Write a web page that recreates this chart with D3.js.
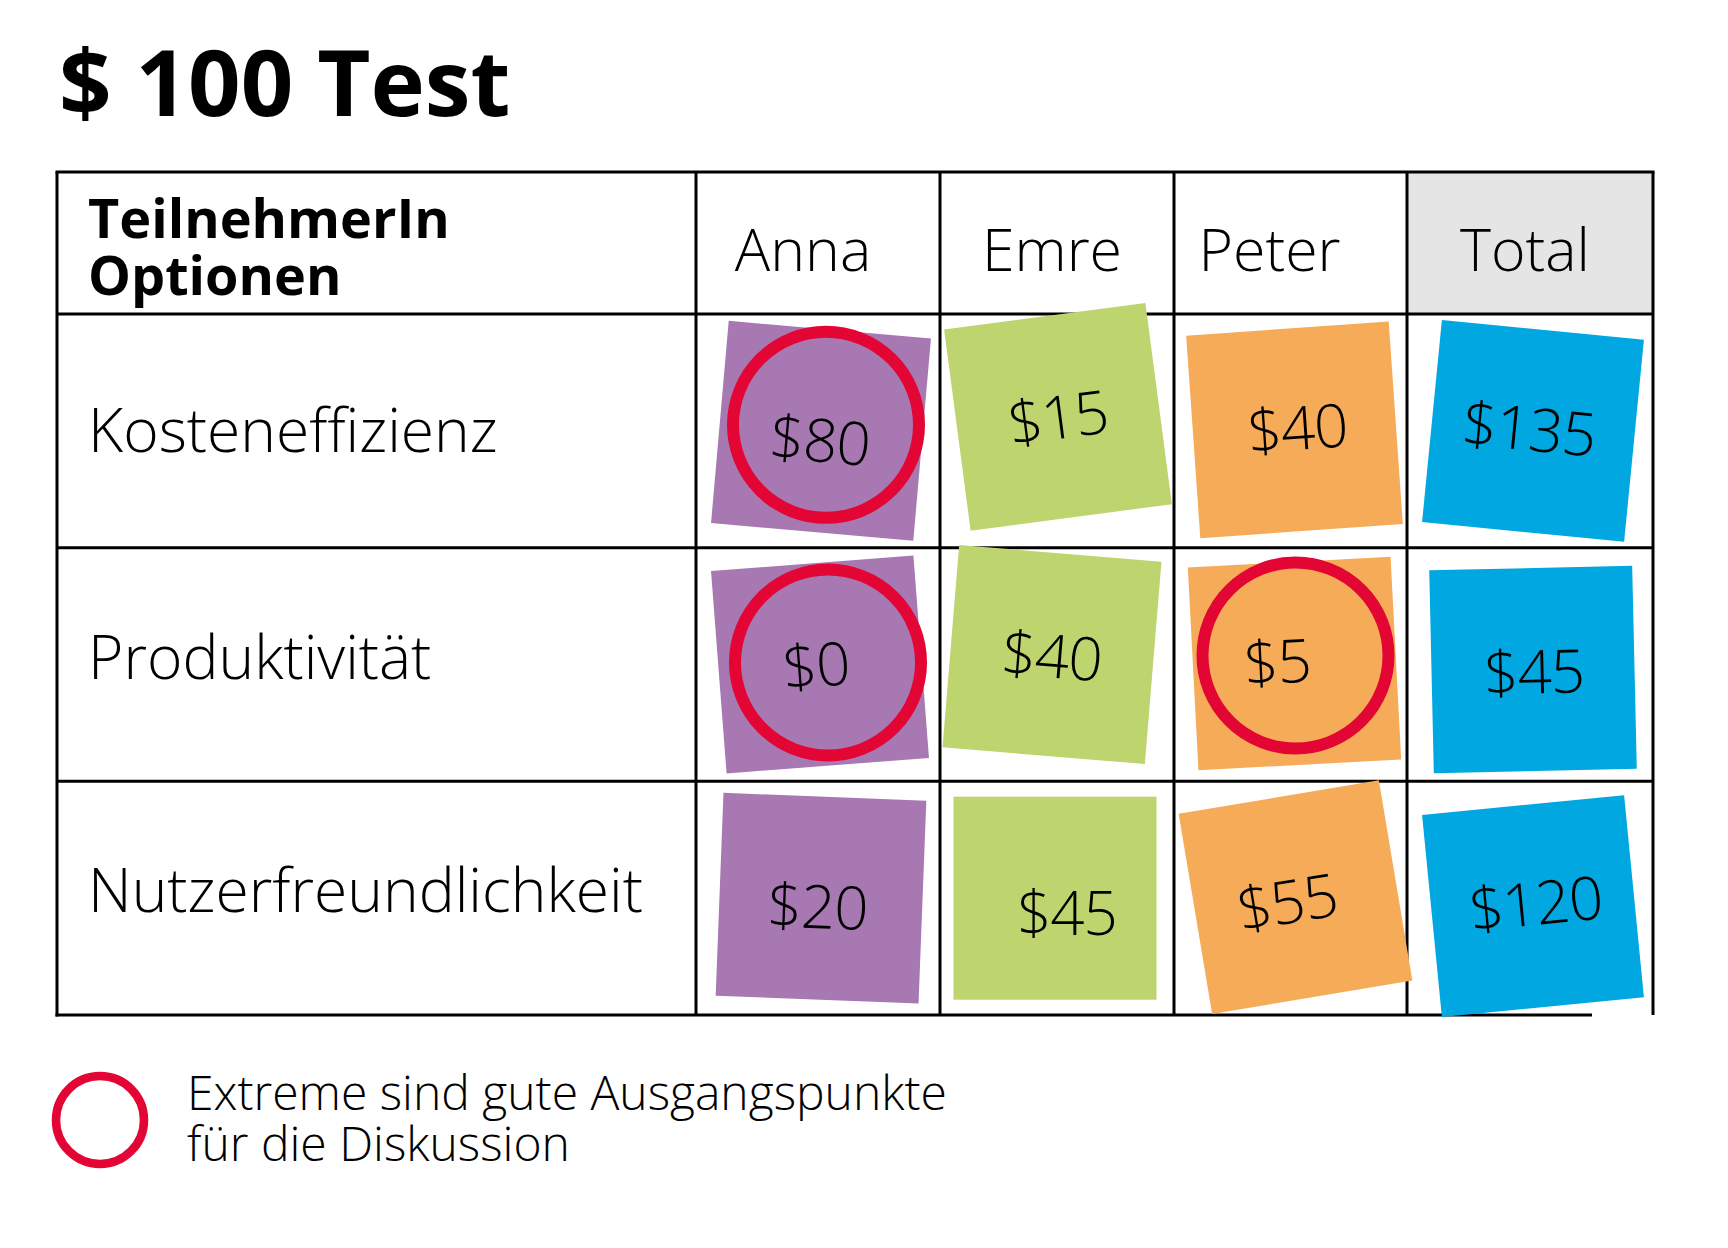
<!DOCTYPE html>
<html>
<head>
<meta charset="utf-8">
<script src="https://cdn.jsdelivr.net/npm/d3@7"></script>
<style>
  body { margin: 0; background: #fff; }
  svg { display: block; }
  text { font-family: "Open Sans", Lato, sans-serif; fill: #000; }
  .light { font-weight: 300; }
</style>
</head>
<body>
<div id="chart"></div>
<script>
// Daten
const participants = ["Anna", "Emre", "Peter", "Total"];
const options = ["Kosteneffizienz", "Produktivität", "Nutzerfreundlichkeit"];
const anna = [80, 0, 20];
const emre = [15, 40, 45];
const peter = [40, 5, 55];
const total = [135, 45, 120];
// Extreme (Zeile, Teilnehmer), die rot markiert werden
const extremes = [["Kosteneffizienz", "Anna"], ["Produktivität", "Anna"], ["Produktivität", "Peter"]];

const seriesByName = { Anna: anna, Emre: emre, Peter: peter, Total: total };
const colors = { Anna: "#a778b2", Emre: "#bdd46f", Peter: "#f6ab59", Total: "#00a7e1" };
const red = "#e30534";

// Spaltenbreiten (Layout) und kleine Verschiebung + Drehung jedes Zettels
// [dx, dy, Winkel, Text-dx, Text-dy] (nur Stil)
const colWidths = [244, 234, 233, 246];
const tilt = [
  [[3, 0, 5, 0, 9], [1, -14, -7.5, 0, 0], [4, -1, -4, 3, -2], [3, 0, 5.6, -4, -2]],
  [[2, 0, -4.4, -4, 0], [-5, -10, 4.7, 0, 1], [4, -1, -3, -17, -3], [3, 5, -1.3, 1, 2]],
  [[3, 0, 2.2, -3, 8], [-2, 0, 0, 12, 15], [5, -1, -9.5, -9, 3], [3, 8, -5.6, 3, -3]]
];
const headerShift = { Anna: -15, Emre: -5, Peter: -21, Total: -5 };
const extremeShift = [[8, -6], [10, -2], [5, -9]];

const width = 1728, height = 1248;
const tLeft = 57, labelRight = 696, tRight = 1653;
const tTop = 172, headerBottom = 314, tBottom = 1015;

const svg = d3.select("#chart").append("svg")
  .attr("width", width)
  .attr("height", height);

// Spalten: linke Kante und Breite je Teilnehmer
const edges = [0].concat(Array.from(d3.cumsum(colWidths)));
const scaleW = (tRight - labelRight) / edges[edges.length - 1];
const x = d3.scaleOrdinal().domain(participants).range(edges.slice(0, -1).map(e => labelRight + e * scaleW));
const xw = d3.scaleOrdinal().domain(participants).range(colWidths.map(w => w * scaleW));
const y = d3.scaleBand().domain(options).range([headerBottom, tBottom]);

// Titel
svg.append("text")
  .attr("x", 59)
  .attr("y", 116)
  .style("font-size", "92px")
  .style("font-weight", 700)
  .text("$ 100 Test");

// graue Kopfzelle fuer Total
svg.append("rect")
  .attr("x", x("Total"))
  .attr("y", tTop)
  .attr("width", tRight - x("Total"))
  .attr("height", headerBottom - tTop)
  .attr("fill", "#e5e5e5");

// Tabellenlinien
const lines = svg.append("g").attr("stroke", "#000").attr("stroke-width", 3);
lines.append("line").attr("x1", tLeft - 1.5).attr("x2", tRight + 1.5).attr("y1", tTop).attr("y2", tTop);
options.forEach(o => {
  lines.append("line").attr("x1", tLeft).attr("x2", tRight).attr("y1", y(o)).attr("y2", y(o));
});
lines.append("line").attr("x1", tLeft - 1.5).attr("x2", 1592).attr("y1", tBottom).attr("y2", tBottom);
lines.append("line").attr("x1", tLeft).attr("x2", tLeft).attr("y1", tTop).attr("y2", tBottom + 1.5);
participants.forEach(p => {
  lines.append("line").attr("x1", x(p)).attr("x2", x(p)).attr("y1", tTop).attr("y2", tBottom);
});
lines.append("line").attr("x1", tRight).attr("x2", tRight).attr("y1", tTop).attr("y2", tBottom);

// Kopfzeile
svg.append("text")
  .attr("x", 88)
  .attr("y", 238)
  .style("font-size", "54px")
  .style("font-weight", 700)
  .text("TeilnehmerIn");
svg.append("text")
  .attr("x", 88)
  .attr("y", 295)
  .style("font-size", "54px")
  .style("font-weight", 700)
  .text("Optionen");

svg.selectAll(".head")
  .data(participants)
  .enter()
  .append("text")
  .attr("class", "head light")
  .attr("x", d => x(d) + xw(d) / 2 + headerShift[d])
  .attr("y", 271)
  .attr("text-anchor", "middle")
  .style("font-size", "59px")
  .text(d => d);

// Zeilenbeschriftung
svg.selectAll(".rowlabel")
  .data(options)
  .enter()
  .append("text")
  .attr("class", "rowlabel light")
  .attr("x", 88)
  .attr("y", (d, i) => y(d) + y.bandwidth() / 2 + (i === 0 ? 21 : 14))
  .style("font-size", "60.5px")
  .style("font-variant-ligatures", "none")
  .text(d => d);

// Klebezettel
const cells = [];
options.forEach((o, i) => {
  participants.forEach((p, j) => {
    const t = tilt[i][j];
    cells.push({
      option: o,
      participant: p,
      value: seriesByName[p][i],
      dx: t[0], dy: t[1], angle: t[2], tdx: t[3], tdy: t[4]
    });
  });
});

const size = 203;
const notes = svg.selectAll(".note")
  .data(cells)
  .enter()
  .append("g")
  .attr("class", "note")
  .attr("transform", d => {
    const cx = x(d.participant) + xw(d.participant) / 2 + d.dx;
    const cy = y(d.option) + y.bandwidth() / 2 + d.dy;
    return "translate(" + cx + "," + cy + ") rotate(" + d.angle + ")";
  });

notes.append("rect")
  .attr("x", -size / 2)
  .attr("y", -size / 2)
  .attr("width", size)
  .attr("height", size)
  .attr("fill", d => colors[d.participant]);

notes.append("text")
  .attr("class", "light")
  .attr("text-anchor", "middle")
  .attr("x", d => d.tdx)
  .attr("y", d => 22 + d.tdy)
  .style("font-size", "60px")
  .style("letter-spacing", "-1px")
  .text(d => "$" + d.value);

// rote Kreise fuer Extreme
svg.selectAll(".extreme")
  .data(extremes)
  .enter()
  .append("circle")
  .attr("class", "extreme")
  .attr("cx", (d, i) => x(d[1]) + xw(d[1]) / 2 + extremeShift[i][0])
  .attr("cy", (d, i) => y(d[0]) + y.bandwidth() / 2 + extremeShift[i][1])
  .attr("r", 93)
  .attr("fill", "none")
  .attr("stroke", red)
  .attr("stroke-width", 12);

// Legende
svg.append("circle")
  .attr("cx", 100)
  .attr("cy", 1120)
  .attr("r", 44)
  .attr("fill", "none")
  .attr("stroke", red)
  .attr("stroke-width", 8.5);

svg.append("text")
  .attr("class", "light")
  .attr("x", 187)
  .attr("y", 1110)
  .style("font-size", "48px")
  .text("Extreme sind gute Ausgangspunkte");
svg.append("text")
  .attr("class", "light")
  .attr("x", 187)
  .attr("y", 1161)
  .style("font-size", "48px")
  .text("für die Diskussion");
</script>
</body>
</html>
